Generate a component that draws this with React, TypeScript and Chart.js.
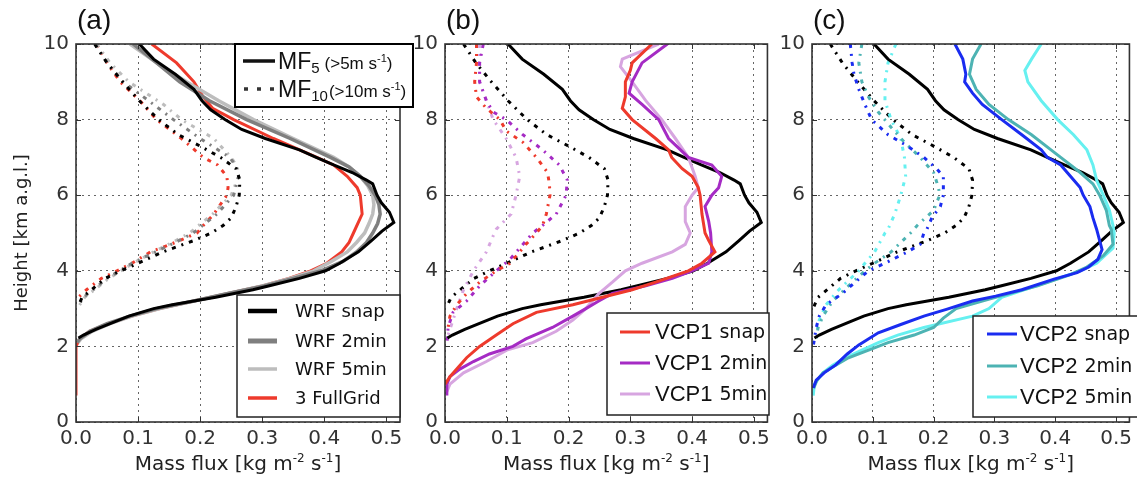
import React, { useEffect, useRef } from 'react';
import { Chart, registerables } from 'chart.js';

Chart.register(...registerables);

// ---------- axis ticks ----------
const xTickStep = 0.1;
const yTickStep = 2;
const xMax = 0.522;
const yMax = 10;

// ---------- WRF reference (panel a, and black lines in b, c) ----------
const wrfSnapMF5H = [10, 9.6, 9.2, 8.8, 8.5, 8.26, 8.0, 7.74, 7.5, 7.2, 7.0, 6.8, 6.6, 6.4, 6.3, 6.0, 5.8, 5.55, 5.28, 5.05, 4.8, 4.5, 4.2, 4.0, 3.8, 3.6, 3.5, 3.4, 3.3, 3.2, 3.1, 3.0, 2.9, 2.8, 2.6, 2.45, 2.3, 2.22];
const wrfSnapMF5 = [0.102, 0.125, 0.16, 0.19, 0.203, 0.217, 0.24, 0.267, 0.305, 0.36, 0.387, 0.415, 0.445, 0.468, 0.478, 0.485, 0.492, 0.505, 0.512, 0.493, 0.476, 0.455, 0.425, 0.402, 0.36, 0.31, 0.285, 0.255, 0.225, 0.19, 0.155, 0.125, 0.105, 0.085, 0.055, 0.032, 0.012, 0.004];

const wrfAvgH = [10, 9.5, 9, 8.5, 8, 7.5, 7, 6.75, 6.5, 6.25, 6, 5.75, 5.5, 5.25, 5, 4.75, 4.5, 4.25, 4, 3.8, 3.6, 3.4, 3.2, 3, 2.8, 2.6, 2.4, 2.2, 2.1];
const wrf2minMF5 = [0.092, 0.13, 0.167, 0.215, 0.275, 0.345, 0.41, 0.44, 0.458, 0.472, 0.482, 0.488, 0.49, 0.486, 0.478, 0.468, 0.452, 0.43, 0.395, 0.35, 0.303, 0.245, 0.19, 0.13, 0.087, 0.05, 0.022, 0.006, 0.002];
const wrf5minMF5 = [0.087, 0.13, 0.178, 0.23, 0.286, 0.35, 0.415, 0.44, 0.458, 0.47, 0.478, 0.48, 0.478, 0.472, 0.465, 0.452, 0.437, 0.412, 0.383, 0.345, 0.3, 0.245, 0.19, 0.135, 0.09, 0.055, 0.026, 0.008, 0.003];

const fullGridMF5H = [10, 9.5, 9, 8.6, 8.3, 8, 7.5, 7, 6.8, 6.5, 6.2, 6, 5.5, 5, 4.75, 4.5, 4.2, 4, 3.8, 3.6, 3.4, 3.2, 3, 2.8, 2.6, 2.4, 2.2, 2.0, 0.7];
const fullGridMF5 = [0.122, 0.162, 0.19, 0.205, 0.22, 0.254, 0.318, 0.388, 0.415, 0.437, 0.453, 0.458, 0.461, 0.447, 0.44, 0.428, 0.404, 0.378, 0.343, 0.3, 0.245, 0.19, 0.135, 0.09, 0.052, 0.022, 0.006, 0.0, 0.0];

const wrfSnapMF10H = [10, 9.5, 9, 8.5, 8, 7.6, 7.3, 7, 6.7, 6.4, 6, 5.7, 5.4, 5.2, 5, 4.8, 4.5, 4.2, 4, 3.8, 3.5, 3.3, 3.05];
const wrfSnapMF10 = [0.03, 0.05, 0.075, 0.102, 0.133, 0.165, 0.2, 0.233, 0.258, 0.264, 0.263, 0.258, 0.25, 0.237, 0.218, 0.19, 0.14, 0.1, 0.072, 0.047, 0.025, 0.01, 0.003];

const wrfAvgMF10H = [10, 9.5, 9, 8.4, 8, 7.5, 7, 6.75, 6.5, 6, 5.5, 5, 4.75, 4.5, 4.2, 4, 3.8, 3.5, 3.3, 3.05];
const wrf2minMF10 = [0.031, 0.05, 0.076, 0.125, 0.157, 0.2, 0.248, 0.258, 0.262, 0.254, 0.227, 0.189, 0.16, 0.128, 0.09, 0.07, 0.05, 0.028, 0.012, 0.003];
const wrf5minMF10 = [0.033, 0.055, 0.085, 0.141, 0.17, 0.222, 0.25, 0.26, 0.262, 0.25, 0.22, 0.183, 0.155, 0.125, 0.092, 0.073, 0.053, 0.03, 0.014, 0.004];

const fullGridMF10H = [10, 9.5, 9, 8.5, 8, 7.5, 7, 6.8, 6.5, 6.2, 6, 5.5, 5.2, 5, 4.75, 4.5, 4.2, 4, 3.8, 3.5, 3.3, 3.2];
const fullGridMF10 = [0.033, 0.05, 0.071, 0.103, 0.13, 0.17, 0.205, 0.228, 0.243, 0.245, 0.243, 0.222, 0.205, 0.195, 0.16, 0.12, 0.09, 0.066, 0.041, 0.017, 0.004, 0.0];

// ---------- VCP1 (panel b) ----------
const vcp1SnapMF5H = [10, 9.5, 9.3, 9, 8.6, 8.3, 8, 7.5, 7.2, 7, 6.7, 6.5, 6.2, 6, 5.5, 5, 4.8, 4.5, 4.2, 4, 3.7, 3.5, 3.3, 3.1, 2.9, 2.6, 2.3, 2, 1.7, 1.4, 1.2, 1.0];
const vcp1SnapMF5 = [0.335, 0.303, 0.3, 0.292, 0.292, 0.287, 0.303, 0.341, 0.362, 0.367, 0.384, 0.4, 0.41, 0.413, 0.416, 0.421, 0.427, 0.437, 0.416, 0.394, 0.341, 0.303, 0.255, 0.207, 0.148, 0.11, 0.083, 0.056, 0.035, 0.019, 0.008, 0.0];

const vcp12minMF5H = [10, 9.5, 9, 8.7, 8.4, 8, 7.5, 7, 6.8, 6.5, 6.2, 6, 5.7, 5.3, 5, 4.5, 4.2, 4, 3.8, 3.6, 3.4, 3.2, 3, 2.8, 2.5, 2.2, 2, 1.8, 1.6, 1.4, 1.2, 1, 0.7];
const vcp12minMF5 = [0.36, 0.319, 0.303, 0.298, 0.319, 0.346, 0.362, 0.394, 0.432, 0.448, 0.443, 0.432, 0.421, 0.427, 0.43, 0.432, 0.427, 0.4, 0.368, 0.325, 0.271, 0.249, 0.228, 0.207, 0.174, 0.131, 0.11, 0.072, 0.046, 0.024, 0.008, 0.003, 0.003];

const vcp15minMF5H = [10, 9.6, 9.4, 9, 8.5, 8, 7.5, 7, 6.5, 6.2, 6, 5.7, 5.3, 5, 4.7, 4.5, 4.2, 4, 3.7, 3.4, 3, 2.7, 2.4, 2.1, 1.9, 1.6, 1.3, 1, 0.8];
const vcp15minMF5 = [0.346, 0.287, 0.284, 0.303, 0.325, 0.351, 0.373, 0.394, 0.405, 0.41, 0.4, 0.389, 0.389, 0.397, 0.389, 0.368, 0.319, 0.292, 0.271, 0.249, 0.228, 0.207, 0.18, 0.142, 0.1, 0.067, 0.03, 0.008, 0.003];

const vcp1SnapMF10H = [10, 9.5, 9, 8.6, 8.3, 8, 7.7, 7.4, 7, 6.6, 6.3, 6, 5.5, 5.2, 5, 4.7, 4.5, 4.2, 4, 3.7, 3.4, 3.1, 2.8, 2.5];
const vcp1SnapMF10 = [0.051, 0.051, 0.048, 0.051, 0.067, 0.089, 0.099, 0.126, 0.148, 0.166, 0.169, 0.17, 0.164, 0.158, 0.148, 0.131, 0.121, 0.105, 0.083, 0.056, 0.035, 0.019, 0.008, 0.005];

const vcp12minMF10H = [10, 9.5, 9, 8.5, 8.2, 8, 7.6, 7.2, 6.8, 6.4, 6, 5.5, 5.2, 5, 4.6, 4.3, 4, 3.6, 3.2, 2.9, 2.5, 2.0];
const vcp12minMF10 = [0.062, 0.056, 0.056, 0.067, 0.078, 0.099, 0.126, 0.158, 0.185, 0.198, 0.196, 0.18, 0.158, 0.142, 0.121, 0.105, 0.083, 0.056, 0.035, 0.013, 0.005, 0.003];

const vcp15minMF10H = [10, 9.5, 9, 8.5, 8, 7.5, 7, 6.5, 6, 5.5, 5.1, 5, 4.5, 4, 3.5, 3, 2.6, 2.3];
const vcp15minMF10 = [0.056, 0.056, 0.056, 0.067, 0.078, 0.099, 0.115, 0.121, 0.115, 0.107, 0.083, 0.08, 0.067, 0.046, 0.03, 0.019, 0.011, 0.005];

// ---------- VCP2 (panel c) ----------
const vcp2SnapMF5H = [10, 9.6, 9.2, 9, 8.7, 8.4, 8, 7.6, 7.2, 7, 6.8, 6.5, 6.2, 6, 5.7, 5.4, 5.1, 4.56, 4.3, 4.1, 3.95, 3.78, 3.5, 3.33, 3.2, 2.98, 2.8, 2.58, 2.36, 2.04, 1.8, 1.51, 1.3, 1.11, 0.9];
const vcp2SnapMF5 = [0.235, 0.248, 0.253, 0.251, 0.264, 0.28, 0.312, 0.345, 0.377, 0.387, 0.409, 0.425, 0.441, 0.446, 0.457, 0.462, 0.468, 0.477, 0.47, 0.455, 0.436, 0.398, 0.345, 0.302, 0.264, 0.221, 0.184, 0.146, 0.109, 0.077, 0.058, 0.039, 0.02, 0.007, 0.002];

const vcp22minMF5H = [10, 9.6, 9.2, 8.8, 8.4, 8, 7.6, 7.2, 7, 6.6, 6.3, 6, 5.6, 5.2, 5.1, 4.7, 4.4, 4.1, 3.9, 3.6, 3.3, 3.2, 3, 2.75, 2.5, 2.3, 2.1, 1.9, 1.7, 1.5, 1.3, 1.1, 0.9];
const vcp22minMF5 = [0.278, 0.264, 0.259, 0.27, 0.291, 0.323, 0.361, 0.393, 0.409, 0.441, 0.462, 0.473, 0.484, 0.489, 0.492, 0.495, 0.479, 0.452, 0.425, 0.371, 0.302, 0.28, 0.237, 0.216, 0.2, 0.168, 0.125, 0.093, 0.06, 0.039, 0.018, 0.008, 0.003];

const vcp25minMF5H = [10, 9.6, 9.3, 9, 8.5, 8, 7.6, 7.2, 6.8, 6.4, 6, 5.6, 5.2, 5, 4.6, 4.2, 4, 3.7, 3.5, 3.3, 3, 2.8, 2.5, 2.3, 2.1, 1.9, 1.7, 1.5, 1.3, 1, 0.7];
const vcp25minMF5 = [0.377, 0.361, 0.35, 0.355, 0.377, 0.404, 0.43, 0.452, 0.462, 0.468, 0.479, 0.489, 0.495, 0.497, 0.495, 0.468, 0.441, 0.387, 0.35, 0.312, 0.291, 0.264, 0.184, 0.141, 0.109, 0.082, 0.055, 0.034, 0.018, 0.004, 0.002];

const vcp2SnapMF10H = [10, 9.5, 9.2, 8.8, 8.4, 8, 7.6, 7.3, 7, 6.7, 6.5, 6.2, 6, 5.7, 5.4, 5.1, 5, 4.7, 4.5, 4.2, 4, 3.7, 3.4, 3.1, 2.8, 2.5, 2];
const vcp2SnapMF10 = [0.063, 0.066, 0.069, 0.077, 0.087, 0.098, 0.125, 0.157, 0.184, 0.205, 0.216, 0.216, 0.216, 0.211, 0.197, 0.189, 0.184, 0.178, 0.157, 0.12, 0.093, 0.071, 0.05, 0.023, 0.012, 0.007, 0.002];

const vcp22minMF10H = [10, 9.5, 9, 8.6, 8.2, 7.8, 7.4, 7, 6.6, 6.2, 6, 5.6, 5.2, 5, 4.5, 4.2, 4, 3.6, 3.2, 2.8, 2.5, 2.2];
const vcp22minMF10 = [0.082, 0.077, 0.082, 0.093, 0.109, 0.13, 0.152, 0.178, 0.2, 0.208, 0.21, 0.2, 0.173, 0.162, 0.13, 0.103, 0.087, 0.06, 0.034, 0.018, 0.01, 0.007];

const vcp25minMF10H = [10, 9.5, 9, 8.5, 8, 7.5, 7, 6.5, 6, 5.5, 5.1, 5, 4.5, 4.2, 4, 3.5, 3.1, 2.7, 2.3];
const vcp25minMF10 = [0.138, 0.125, 0.12, 0.12, 0.13, 0.146, 0.152, 0.154, 0.146, 0.136, 0.125, 0.12, 0.103, 0.087, 0.077, 0.044, 0.023, 0.012, 0.007];

// ---------- styling ----------
const DEJAVU = '"DejaVu Sans", sans-serif';
const ARIAL = '"Liberation Sans", Arial, sans-serif';
const DOT_DASH = [4, 6, 2, 6];

const C_BLACK = '#000000';
const C_GRAY = '#7f7f7f';
const C_LGRAY = '#bdbdbd';
const C_RED = '#ee3a2c';
const C_PURPLE = '#a52bc4';
const C_LPURPLE = '#d7a5e0';
const C_BLUE = '#1a2cf0';
const C_TEAL = '#4db3b3';
const C_CYAN = '#66f0f0';

function pts(h: number[], f: number[]) {
  return h.map((y, i) => ({ x: f[i], y }));
}

function solid(label: string, h: number[], f: number[], color: string, width: number, legendWidth?: number) {
  return {
    label, data: pts(h, f), borderColor: color, backgroundColor: color, borderWidth: width,
    showLine: true, pointRadius: 0, fill: false, tension: 0,
    inLegend: true, legendWidth: legendWidth ?? width,
  };
}

function dotted(label: string, h: number[], f: number[], color: string) {
  return {
    label, data: pts(h, f), borderColor: color, backgroundColor: color, borderWidth: 3,
    borderDash: DOT_DASH, borderCapStyle: 'butt',
    showLine: true, pointRadius: 0, fill: false, tension: 0, inLegend: false,
  };
}

type LegendCfg = {
  x: number; y: number; w: number; h: number;
  rows: number[]; lineX0: number; lineX1: number; textX: number;
  split: boolean;
};

type PanelCfg = {
  letter: string;
  canvasLeft: number;
  canvasWidth: number;
  yWidth: number;
  padRight: number;
  yTitle: boolean;
  mfLegend: boolean;
  legend: LegendCfg;
  datasets: any[];
};

const panels: PanelCfg[] = [
  {
    letter: '(a)', canvasLeft: 0, canvasWidth: 420, yWidth: 76, padRight: 20, yTitle: true, mfLegend: true,
    legend: { x: 237, y: 295, w: 163, h: 122, rows: [311, 341, 369, 398], lineX0: 248, lineX1: 277, textX: 295, split: false },
    datasets: [
      solid('WRF snap', wrfSnapMF5H, wrfSnapMF5, C_BLACK, 3, 4.5),
      solid('WRF 2min', wrfAvgH, wrf2minMF5, C_GRAY, 3.5, 5),
      solid('WRF 5min', wrfAvgH, wrf5minMF5, C_LGRAY, 3.5, 3.5),
      solid('3 FullGrid', fullGridMF5H, fullGridMF5, C_RED, 3, 3.5),
      dotted('WRF snap MF10', wrfSnapMF10H, wrfSnapMF10, C_BLACK),
      dotted('WRF 2min MF10', wrfAvgMF10H, wrf2minMF10, C_GRAY),
      dotted('WRF 5min MF10', wrfAvgMF10H, wrf5minMF10, C_LGRAY),
      dotted('3 FullGrid MF10', fullGridMF10H, fullGridMF10, C_RED),
    ],
  },
  {
    letter: '(b)', canvasLeft: 405, canvasWidth: 370, yWidth: 40, padRight: 6, yTitle: false, mfLegend: false,
    legend: { x: 607, y: 313, w: 162, h: 102, rows: [332, 363, 394], lineX0: 620, lineX1: 650, textX: 655, split: true },
    datasets: [
      solid('VCP1 snap', vcp1SnapMF5H, vcp1SnapMF5, C_RED, 3),
      solid('VCP1 2min', vcp12minMF5H, vcp12minMF5, C_PURPLE, 3),
      solid('VCP1 5min', vcp15minMF5H, vcp15minMF5, C_LPURPLE, 3),
      { ...solid('WRF snap', wrfSnapMF5H, wrfSnapMF5, C_BLACK, 3), inLegend: false },
      dotted('VCP1 snap MF10', vcp1SnapMF10H, vcp1SnapMF10, C_RED),
      dotted('VCP1 2min MF10', vcp12minMF10H, vcp12minMF10, C_PURPLE),
      dotted('VCP1 5min MF10', vcp15minMF10H, vcp15minMF10, C_LPURPLE),
      dotted('WRF snap MF10', wrfSnapMF10H, wrfSnapMF10, C_BLACK),
    ],
  },
  {
    letter: '(c)', canvasLeft: 772, canvasWidth: 365, yWidth: 40, padRight: 1, yTitle: false, mfLegend: false,
    legend: { x: 973, y: 316, w: 170, h: 101, rows: [334, 366, 397], lineX0: 987, lineX1: 1017, textX: 1020, split: true },
    datasets: [
      solid('VCP2 snap', vcp2SnapMF5H, vcp2SnapMF5, C_BLUE, 3),
      solid('VCP2 2min', vcp22minMF5H, vcp22minMF5, C_TEAL, 3),
      solid('VCP2 5min', vcp25minMF5H, vcp25minMF5, C_CYAN, 3),
      { ...solid('WRF snap', wrfSnapMF5H, wrfSnapMF5, C_BLACK, 3), inLegend: false },
      dotted('VCP2 snap MF10', vcp2SnapMF10H, vcp2SnapMF10, C_BLUE),
      dotted('VCP2 2min MF10', vcp22minMF10H, vcp22minMF10, C_TEAL),
      dotted('VCP2 5min MF10', vcp25minMF10H, vcp25minMF10, C_CYAN),
      dotted('WRF snap MF10', wrfSnapMF10H, wrfSnapMF10, C_BLACK),
    ],
  },
];

type Seg = { t: string; font: string; dy?: number };

function drawSegs(ctx: CanvasRenderingContext2D, segs: Seg[], x: number, y: number) {
  let cx = x;
  for (const s of segs) {
    ctx.font = s.font;
    ctx.fillText(s.t, cx, y + (s.dy || 0));
    cx += ctx.measureText(s.t).width;
  }
  return cx;
}

function segsWidth(ctx: CanvasRenderingContext2D, segs: Seg[]) {
  let w = 0;
  for (const s of segs) {
    ctx.font = s.font;
    w += ctx.measureText(s.t).width;
  }
  return w;
}

function makePlugin(cfg: PanelCfg) {
  return {
    id: 'panelDecor' + cfg.letter,
    afterDraw(chart: any) {
      const ctx: CanvasRenderingContext2D = chart.ctx;
      const a = chart.chartArea;
      const off = cfg.canvasLeft;
      const xs = chart.scales.x;
      const ys = chart.scales.y;
      ctx.save();
      ctx.setLineDash([]);

      // inward tick marks
      ctx.strokeStyle = '#333';
      ctx.lineWidth = 1;
      ctx.beginPath();
      xs.ticks.forEach((t: any) => {
        const px = Math.round(xs.getPixelForValue(t.value)) + 0.5;
        ctx.moveTo(px, a.bottom); ctx.lineTo(px, a.bottom - 5);
        ctx.moveTo(px, a.top); ctx.lineTo(px, a.top + 5);
      });
      ys.ticks.forEach((t: any) => {
        const py = Math.round(ys.getPixelForValue(t.value)) + 0.5;
        ctx.moveTo(a.left, py); ctx.lineTo(a.left + 5, py);
        ctx.moveTo(a.right, py); ctx.lineTo(a.right - 5, py);
      });
      ctx.stroke();

      // frame
      ctx.strokeStyle = '#333';
      ctx.lineWidth = 1.6;
      ctx.strokeRect(a.left, a.top, a.right - a.left, a.bottom - a.top);

      ctx.fillStyle = '#111';
      // panel letter
      ctx.textAlign = 'left';
      ctx.textBaseline = 'alphabetic';
      ctx.font = `28px ${ARIAL}`;
      ctx.fillText(cfg.letter, a.left + 1, 29);

      // x axis title
      const big = `20px ${DEJAVU}`;
      const sup = `12px ${DEJAVU}`;
      const xt: Seg[] = [
        { t: 'Mass flux [kg m', font: big },
        { t: '-2', font: sup, dy: -8 },
        { t: ' s', font: big },
        { t: '-1', font: sup, dy: -8 },
        { t: ']', font: big },
      ];
      ctx.fillStyle = '#222';
      ctx.textBaseline = 'alphabetic';
      const w = segsWidth(ctx, xt);
      drawSegs(ctx, xt, (a.left + a.right) / 2 - w / 2, 470);

      // y axis title
      if (cfg.yTitle) {
        ctx.save();
        ctx.translate(22, (a.top + a.bottom) / 2);
        ctx.rotate(-Math.PI / 2);
        ctx.font = `18px ${DEJAVU}`;
        ctx.textAlign = 'center';
        ctx.textBaseline = 'middle';
        ctx.fillText('Height [km a.g.l.]', 0, 0);
        ctx.restore();
      }

      // series legend
      const L = cfg.legend;
      const lx = L.x - off;
      ctx.fillStyle = '#fff';
      ctx.fillRect(lx, L.y, L.w, L.h);
      ctx.strokeStyle = '#222';
      ctx.lineWidth = 1.5;
      ctx.strokeRect(lx, L.y, L.w, L.h);
      const items = chart.data.datasets.filter((d: any) => d.inLegend);
      items.forEach((d: any, i: number) => {
        const y = L.rows[i];
        ctx.strokeStyle = d.borderColor;
        ctx.lineWidth = d.legendWidth;
        ctx.setLineDash([]);
        ctx.beginPath();
        ctx.moveTo(L.lineX0 - off, y);
        ctx.lineTo(L.lineX1 - off, y);
        ctx.stroke();
        ctx.fillStyle = '#111';
        ctx.textAlign = 'left';
        ctx.textBaseline = 'middle';
        if (L.split) {
          const sp = d.label.indexOf(' ');
          const p1 = d.label.slice(0, sp);
          const p2 = d.label.slice(sp + 1);
          ctx.font = `22px ${ARIAL}`;
          ctx.fillText(p1, L.textX - off, y + 1);
          const w1 = ctx.measureText(p1).width;
          ctx.font = `19px ${DEJAVU}`;
          ctx.fillText(p2, L.textX - off + w1 + 7, y + 1);
        } else {
          ctx.font = `18px ${DEJAVU}`;
          ctx.fillText(d.label, L.textX - off, y + 1);
        }
      });

      // MF legend (panel a)
      if (cfg.mfLegend) {
        const bx = 235 - off, by = 44, bw = 178, bh = 63;
        ctx.fillStyle = '#fff';
        ctx.fillRect(bx, by, bw, bh);
        ctx.strokeStyle = '#000';
        ctx.lineWidth = 2;
        ctx.strokeRect(bx, by, bw, bh);
        // row 1 solid
        ctx.strokeStyle = '#111';
        ctx.lineWidth = 3.5;
        ctx.beginPath();
        ctx.moveTo(243 - off, 61); ctx.lineTo(275 - off, 61);
        ctx.stroke();
        // row 2 dotted
        ctx.strokeStyle = '#333';
        ctx.setLineDash([4, 9]);
        ctx.beginPath();
        ctx.moveTo(244 - off, 89); ctx.lineTo(277 - off, 89);
        ctx.stroke();
        ctx.setLineDash([]);
        ctx.fillStyle = '#111';
        ctx.textAlign = 'left';
        ctx.textBaseline = 'alphabetic';
        const r1: Seg[] = [
          { t: 'MF', font: `23px ${ARIAL}` },
          { t: '5', font: `15px ${ARIAL}`, dy: 4 },
        ];
        const e1 = drawSegs(ctx, r1, 278 - off, 69);
        drawSegs(ctx, [
          { t: '(>5m s', font: `17px ${ARIAL}` },
          { t: '-1', font: `11px ${ARIAL}`, dy: -7 },
          { t: ')', font: `17px ${ARIAL}` },
        ], e1 + 5, 69);
        const r2: Seg[] = [
          { t: 'MF', font: `23px ${ARIAL}` },
          { t: '10', font: `15px ${ARIAL}`, dy: 4 },
        ];
        const e2 = drawSegs(ctx, r2, 278 - off, 97);
        drawSegs(ctx, [
          { t: '(>10m s', font: `17px ${ARIAL}` },
          { t: '-1', font: `11px ${ARIAL}`, dy: -7 },
          { t: ')', font: `17px ${ARIAL}` },
        ], e2 + 1, 97);
      }
      ctx.restore();
    },
  };
}

function Panel({ cfg }: { cfg: PanelCfg }) {
  const ref = useRef<HTMLCanvasElement>(null);
  useEffect(() => {
    const tickFont = { family: DEJAVU, size: 20 };
    const chart = new Chart(ref.current as HTMLCanvasElement, {
      type: 'scatter',
      data: { datasets: cfg.datasets as any },
      plugins: [makePlugin(cfg) as any],
      options: {
        responsive: false,
        animation: false,
        events: [],
        layout: { padding: { left: 0, right: cfg.padRight, top: 44, bottom: 0 } },
        plugins: { legend: { display: false }, tooltip: { enabled: false }, title: { display: false } },
        scales: {
          x: {
            type: 'linear', min: 0, max: xMax,
            afterFit: (s: any) => { s.height = 56; },
            ticks: {
              stepSize: xTickStep, includeBounds: false, autoSkip: false, maxRotation: 0,
              font: tickFont, color: '#333', padding: 5,
              callback: (v: any) => Number(v).toFixed(1),
            },
            grid: { color: '#666', lineWidth: 1, drawTicks: false },
            border: { display: false, dash: [2, 4] },
          },
          y: {
            type: 'linear', min: 0, max: yMax,
            afterFit: (s: any) => { s.width = cfg.yWidth; },
            ticks: {
              stepSize: yTickStep, includeBounds: false, autoSkip: false,
              font: tickFont, color: '#333', padding: 7,
              callback: (v: any) => String(Math.round(Number(v))),
            },
            grid: { color: '#666', lineWidth: 1, drawTicks: false },
            border: { display: false, dash: [2, 4] },
          },
        },
      } as any,
    });
    return () => chart.destroy();
  }, []);
  return (
    <canvas
      ref={ref}
      width={cfg.canvasWidth}
      height={478}
      style={{ position: 'absolute', left: cfg.canvasLeft, top: 0, width: cfg.canvasWidth, height: 478, display: 'block' }}
    />
  );
}

export default function App() {
  return (
    <div style={{ position: 'absolute', left: 0, top: 0, width: 1137, height: 478, background: '#fff', overflow: 'hidden' }}>
      {panels.map((p) => (
        <Panel key={p.letter} cfg={p} />
      ))}
    </div>
  );
}
